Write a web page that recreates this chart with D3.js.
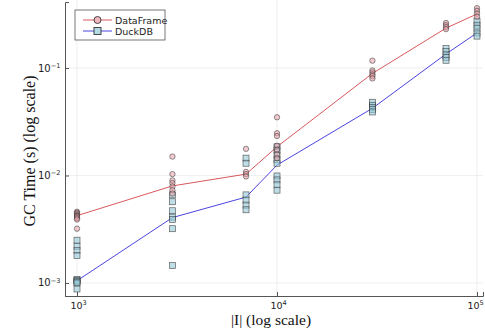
<!DOCTYPE html>
<html>
<head>
<meta charset="utf-8">
<script src="https://cdn.jsdelivr.net/npm/d3@7"></script>
<style>
  body { margin: 0; background: #fff; }
  svg { display: block; }
</style>
</head>
<body>
<div id="chart"></div>
<script>
// sizes |I|
const sizes = [1000, 3000, 7000, 10000, 30000, 70000, 100000];

// line through the runs (median-ish), seconds
const dfLine = [0.00423, 0.0080, 0.0103, 0.0185, 0.089, 0.235, 0.318];
const duckLine = [0.00105, 0.00406, 0.0063, 0.0125, 0.0422, 0.135, 0.212];

// individual runs, one list per size
const dfRuns = [
  [0.0046, 0.0045, 0.0044, 0.0043, 0.0042, 0.0042, 0.0041, 0.0040, 0.0039, 0.0032],
  [0.0150, 0.0103, 0.0090, 0.0085, 0.0079, 0.0073, 0.0068],
  [0.0177, 0.0108, 0.0103, 0.0098],
  [0.0348, 0.0247, 0.0233, 0.0189, 0.0173, 0.0157, 0.0145],
  [0.117, 0.095, 0.091, 0.087, 0.084, 0.080],
  [0.262, 0.250, 0.240, 0.230],
  [0.360, 0.340, 0.320, 0.300]
];
const duckRuns = [
  [0.0025, 0.0022, 0.0020, 0.0018, 0.00108, 0.00106, 0.00104, 0.00102, 0.00100, 0.00088],
  [0.0066, 0.0057, 0.0047, 0.0041, 0.0039, 0.0032, 0.00145],
  [0.0145, 0.0130, 0.0066, 0.0059, 0.0053, 0.0048],
  [0.0185, 0.0173, 0.0155, 0.0140, 0.0130, 0.0099, 0.0091, 0.0082, 0.0073],
  [0.048, 0.045, 0.043, 0.041, 0.039],
  [0.152, 0.142, 0.132, 0.125, 0.118],
  [0.273, 0.250, 0.234, 0.212, 0.198]
];

const xTicks = [1e3, 1e4, 1e5];
const yTicks = [1e-3, 1e-2, 1e-1];

const W = 485, H = 334;
const mLeft = 65, mRight = 483, mTop = 2, mBottom = 296;

const svg = d3.select("#chart").append("svg").attr("width", W).attr("height", H);

const x = d3.scaleLog().domain([Math.pow(10, 2.94), Math.pow(10, 5.03)]).range([mLeft, mRight]);
const y = d3.scaleLog().domain([Math.pow(10, -3.121), Math.pow(10, -0.386)]).range([mBottom, mTop]);

// grid
svg.append("g").selectAll("line").data(xTicks).enter().append("line")
  .attr("x1", d => x(d)).attr("x2", d => x(d)).attr("y1", 0).attr("y2", mBottom)
  .attr("stroke", "#e6e6e6").attr("stroke-width", 0.7);
svg.append("g").selectAll("line").data(yTicks).enter().append("line")
  .attr("x1", mLeft).attr("x2", mRight).attr("y1", d => y(d)).attr("y2", d => y(d))
  .attr("stroke", "#e6e6e6").attr("stroke-width", 0.7);

// axes
const sup = { "-3": "\u22123", "-2": "\u22122", "-1": "\u22121", "3": "3", "4": "4", "5": "5" };
function powLabel(sel, d) {
  const e = Math.round(Math.log10(d));
  sel.append("tspan").text("10");
  sel.append("tspan").attr("dy", "-0.55em").attr("font-size", "6.5px").text(sup[e]);
}

const xAxis = svg.append("g").attr("transform", `translate(0,${mBottom})`)
  .call(d3.axisBottom(x).tickValues(xTicks).tickSize(-4).tickFormat(""));
const yAxis = svg.append("g").attr("transform", `translate(${mLeft},0)`)
  .call(d3.axisLeft(y).tickValues(yTicks).tickSize(-4).tickFormat(""));
[xAxis, yAxis].forEach(a => {
  a.select(".domain").attr("stroke", "#555").attr("stroke-width", 1);
  a.selectAll(".tick line").attr("stroke", "#555");
});

xAxis.selectAll(".tick").each(function(d, i) {
  const t = d3.select(this).append("text")
    .attr("x", i === 2 ? -10 : -7).attr("y", 13).attr("fill", "#222")
    .attr("font-family", "DejaVu Sans, sans-serif").attr("font-size", "9.5px")
    .attr("text-anchor", "start");
  powLabel(t, d);
});
yAxis.selectAll(".tick").each(function(d) {
  const t = d3.select(this).append("text")
    .attr("x", -27).attr("y", 3).attr("fill", "#222")
    .attr("font-family", "DejaVu Sans, sans-serif").attr("font-size", "10px")
    .attr("text-anchor", "start");
  powLabel(t, d);
});

// axis titles
svg.append("text").attr("x", (mLeft + mRight) / 2 - 3).attr("y", 324.5)
  .attr("text-anchor", "middle").attr("font-family", "Liberation Serif, Times New Roman, serif")
  .attr("font-size", "15.5px").attr("fill", "#111").text("|I| (log scale)");
svg.append("text").attr("transform", `translate(35,${(mTop + mBottom) / 2 + 2}) rotate(-90)`)
  .attr("text-anchor", "middle").attr("font-family", "Liberation Serif, Times New Roman, serif")
  .attr("font-size", "16px").attr("fill", "#111").text("GC Time (s) (log scale)");

const redCol = "#d9595e", blueCol = "#4b45e0";
const circFill = "rgba(232,160,170,0.55)", sqFill = "rgba(150,200,215,0.6)";
const edge = "rgba(50,50,50,0.75)";

const line = d3.line().x((d, i) => x(sizes[i])).y(d => y(d));
svg.append("path").datum(dfLine).attr("d", line).attr("fill", "none").attr("stroke", redCol).attr("stroke-width", 1);
svg.append("path").datum(duckLine).attr("d", line).attr("fill", "none").attr("stroke", blueCol).attr("stroke-width", 1);

const dfPts = dfRuns.flatMap((r, i) => r.map(v => [sizes[i], v]));
const duckPts = duckRuns.flatMap((r, i) => r.map(v => [sizes[i], v]));

svg.append("g").selectAll("rect").data(duckPts).enter().append("rect")
  .attr("x", d => x(d[0]) - 3).attr("y", d => y(d[1]) - 3)
  .attr("width", 6).attr("height", 6)
  .attr("fill", sqFill).attr("stroke", edge).attr("stroke-width", 0.7);
svg.append("g").selectAll("circle").data(dfPts).enter().append("circle")
  .attr("cx", d => x(d[0])).attr("cy", d => y(d[1])).attr("r", 2.7)
  .attr("fill", circFill).attr("stroke", edge).attr("stroke-width", 0.7);

// legend
const lg = svg.append("g").attr("transform", "translate(75,10)");
lg.append("rect").attr("width", 90).attr("height", 30).attr("fill", "#fff")
  .attr("stroke", "#555").attr("stroke-width", 0.8);
const items = [
  { name: "DataFrame", col: redCol, shape: "circle" },
  { name: "DuckDB", col: blueCol, shape: "square" }
];
items.forEach((it, i) => {
  const yy = 10 + i * 11;
  lg.append("line").attr("x1", 8).attr("x2", 37).attr("y1", yy).attr("y2", yy)
    .attr("stroke", it.col).attr("stroke-width", 1);
  if (it.shape === "circle") {
    lg.append("circle").attr("cx", 22.5).attr("cy", yy).attr("r", 3.5)
      .attr("fill", "#f2b8c0").attr("stroke", "#333").attr("stroke-width", 0.9);
  } else {
    lg.append("rect").attr("x", 19).attr("y", yy - 3.5).attr("width", 7).attr("height", 7)
      .attr("fill", "#b3dbe6").attr("stroke", "#333").attr("stroke-width", 0.9);
  }
  lg.append("text").attr("x", 40).attr("y", yy + 3.5)
    .attr("font-family", "DejaVu Sans, sans-serif").attr("font-size", "9.5px")
    .attr("fill", "#222").text(it.name);
});
</script>
</body>
</html>
